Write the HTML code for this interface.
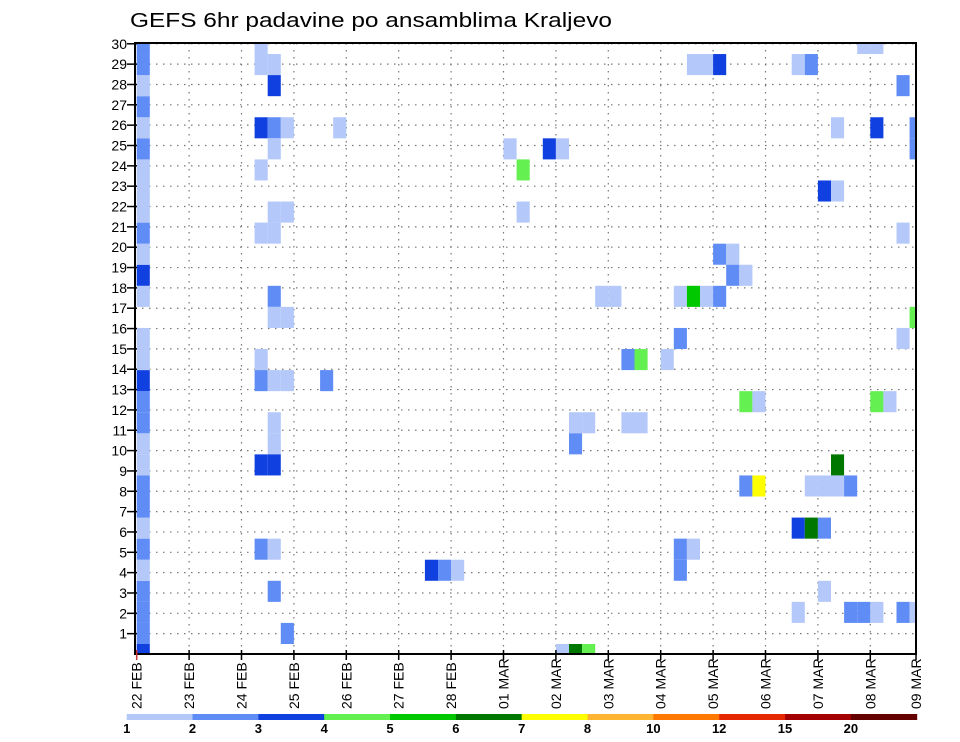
<!DOCTYPE html>
<html><head><meta charset="utf-8"><style>
html,body{margin:0;padding:0;background:#fff;}
svg{display:block;font-family:"Liberation Sans",sans-serif;}
</style></head><body>
<svg id="chart" width="960" height="742" viewBox="0 0 960 742" xmlns="http://www.w3.org/2000/svg">
<text x="130" y="27" font-size="20" fill="#000" textLength="482" lengthAdjust="spacingAndGlyphs">GEFS 6hr padavine po ansamblima Kraljevo</text>
<defs><clipPath id="plotclip"><rect x="135" y="43" width="781" height="611"/></clipPath></defs>
<g id="grid"></g>
<g id="cells" clip-path="url(#plotclip)"></g>
<rect x="135" y="43" width="781" height="611" fill="none" stroke="#000" stroke-width="2"/>
<g id="yaxis"></g>
<g id="xaxis"></g>
<g id="colorbar"></g>
</svg>
<script>
// ---- data ----
const dayLabels = ["22 FEB","23 FEB","24 FEB","25 FEB","26 FEB","27 FEB","28 FEB","01 MAR","02 MAR","03 MAR","04 MAR","05 MAR","06 MAR","07 MAR","08 MAR","09 MAR"];
const memberTicks = [1,2,3,4,5,6,7,8,9,10,11,12,13,14,15,16,17,18,19,20,21,22,23,24,25,26,27,28,29,30];
const legendLabels = ["1","2","3","4","5","6","7","8","10","12","15","20"];
const levelColors = ["#b4c8fa","#5f8cf5","#1040e0","#64f050","#00c800","#007800","#ffff00","#ffb432","#ff7800","#e62800","#a50000","#640000"];
// first time slot: level per member 0..29
const col0Levels = [3,2,2,2,1,2,1,2,2,1,1,2,2,3,1,1,0,1,3,1,2,1,1,1,2,1,2,1,2,2];
// remaining cells
const cellSlots   = [9,9,10,10,9,10,11,15,10,9,10,11,9,10, 28,31,32,29,29, 55,56,42,43,44,50,51,58,53,56,59,59,52,53,58, 44,45,45,46,35,36,41,42,43,44,59,41,58,40,37,38, 46,47,56,57,33,34,37,38,33, 10,10,11,9,9,10,11,14,10,10,9,10,9,10,10,11,22,23,24, 53,46,47,51,52,53,54,50,51,52,41,41,42,52,50,54,55,56,58,59,32,33,34];
const cellMembers = [29,28,28,27,25,25,25,25,24,23,21,21,20,20, 24,24,24,23,21, 29,29,28,28,28,28,28,27,25,25,25,24,22,22,20, 19,19,18,18,17,17,17,17,17,17,16,15,15,14,14,14, 12,12,12,12,11,11,11,11,10, 17,16,16,14,13,13,13,13,11,10,9,9,5,5,3,1,4,4,4, 9,8,8,8,8,8,8,6,6,6,5,4,5,3,2,2,2,2,2,2,0,0,0];
const cellLevels  = [1,1,1,3,3,2,1,1,1,1,1,1,1,1, 1,3,1,4,1, 1,1,1,1,3,1,2,2,1,3,2,2,3,1,1, 2,1,2,1,1,1,1,5,1,2,4,2,1,1,2,4, 4,1,4,1,1,1,1,1,2, 2,1,1,1,2,1,1,2,1,1,3,3,2,1,2,2,3,2,1, 6,2,7,1,1,1,2,3,6,2,2,2,1,1,1,2,2,1,2,1,1,6,4];

// ---- scales ----
const X0 = 136.7, SLOT = 13.1, PLOT_R = 916, PLOT_T = 43, PLOT_B = 654;
const CELL_H = 21.07;
function xSlot(i){ return X0 + SLOT*i; }
function xDay(d){ return Math.min(xSlot(4*d), PLOT_R); }
function yCellTop(m){ return 644 - CELL_H*m; }
function yTick(v){ return PLOT_B - 20.34*v; }

const NS = "http://www.w3.org/2000/svg";
function mk(tag, attrs, parent){ const e=document.createElementNS(NS,tag); for(const k in attrs) e.setAttribute(k,attrs[k]); parent.appendChild(e); return e; }

// grid
const grid = document.getElementById("grid");
memberTicks.forEach(v=>{
  const l = mk("line",{x1:135,x2:PLOT_R,y1:yTick(v),y2:yTick(v),stroke:"#777","stroke-width":1.2,"stroke-dasharray":"1.5,5.5"},grid);
  
  
});
dayLabels.forEach((lab,d)=>{
  if(d===0||d===dayLabels.length-1) return;
  const l = mk("line",{x1:xDay(d),x2:xDay(d),y1:PLOT_T,y2:PLOT_B,stroke:"#777","stroke-width":1.2,"stroke-dasharray":"1.5,5.5"},grid);
  
  
});

// cells
const cells = document.getElementById("cells");
function drawCell(i,m,lev){
  if(!lev) return;
  const r = mk("rect",{x:xSlot(i),y:yCellTop(m),width:SLOT,height:CELL_H,fill:levelColors[lev-1]},cells);
  
  
}
col0Levels.forEach((lev,m)=>drawCell(0,m,lev));
cellSlots.forEach((s,k)=>drawCell(s,cellMembers[k],cellLevels[k]));

// y axis
const ya = document.getElementById("yaxis");
memberTicks.forEach(v=>{
  const y = yTick(v);
  const t = mk("line",{x1:127,x2:137,y1:y,y2:y,stroke:"#000","stroke-width":1.5},ya);
  
  
  const tx = mk("text",{x:127,y:y+5,"text-anchor":"end","font-size":14,fill:"#000"},ya);
  tx.textContent = String(v);
  
  
});

// x axis
const xa = document.getElementById("xaxis");
dayLabels.forEach((lab,d)=>{
  const x = xDay(d);
  const t = mk("line",{x1:x,x2:x,y1:PLOT_B-4,y2:PLOT_B+6,stroke:d===0?"#c33":"#000","stroke-width":1.5},xa);
  
  
  const tx = mk("text",{x:0,y:0,"font-size":14,fill:"#000",transform:"translate("+(x+5)+",709) rotate(-90)"},xa);
  tx.textContent = lab;
  
  
});

// colorbar
const cb = document.getElementById("colorbar");
const CB_X = 126.7, CB_W = (916.7-126.7)/levelColors.length;
levelColors.forEach((c,k)=>{
  const r = mk("rect",{x:CB_X+CB_W*k,y:714,width:CB_W+0.5,height:6,fill:c},cb);
  
  
});
legendLabels.forEach((lab,k)=>{
  const tx = mk("text",{x:CB_X+CB_W*k,y:733,"text-anchor":"middle","font-size":13,"font-weight":"bold",fill:"#000"},cb);
  tx.textContent = lab;
  
  
});
</script>
</body></html>
